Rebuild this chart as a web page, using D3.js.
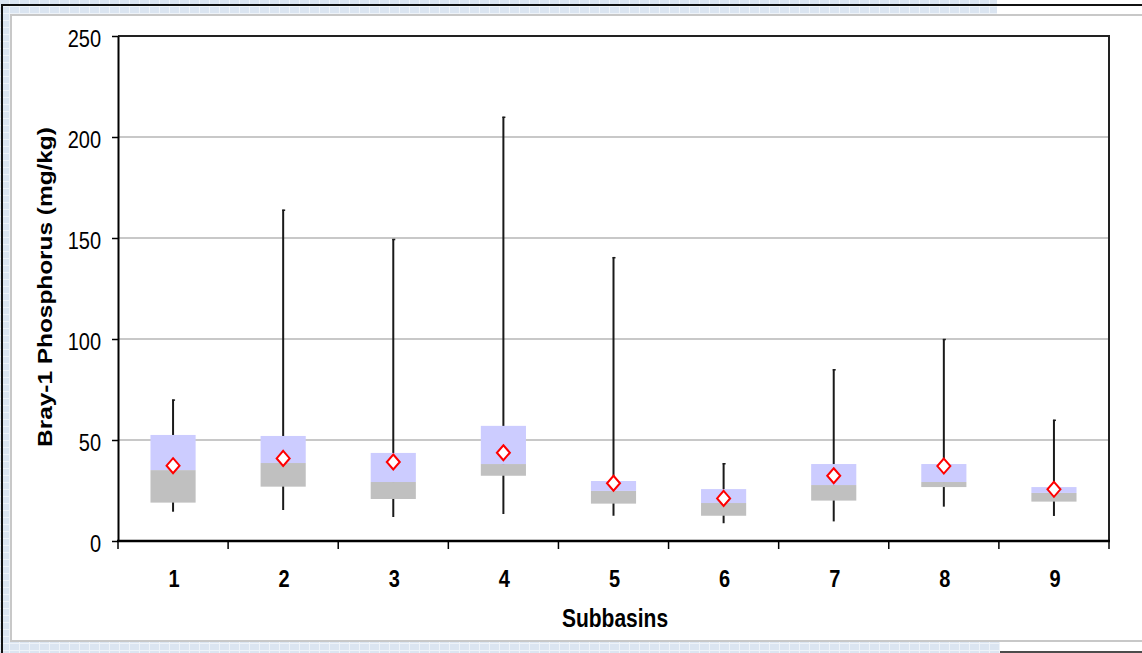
<!DOCTYPE html>
<html>
<head>
<meta charset="utf-8">
<script src="https://cdn.jsdelivr.net/npm/d3@7"></script>
<style>
  body { margin: 0; background: #fff; }
  svg { display: block; font-family: Arial, "Liberation Sans", sans-serif; }
</style>
</head>
<body>
<svg id="plotarea"></svg>
<script>
// subbasin stats (mg/kg)
var subbasins = ["1", "2", "3", "4", "5", "6", "7", "8", "9"];
var maxVals  = [70, 164, 149.5, 210, 140.5, 38.5, 85, 100, 60];
var q3Vals   = [52.5, 52, 43.6, 57, 29.7, 25.7, 38.1, 38.1, 26.7];
var medVals  = [35.1, 38.6, 29.2, 38.1, 24.8, 18.8, 27.7, 29.2, 23.8];
var q1Vals   = [19, 26.9, 20.8, 32.3, 18.5, 12.5, 20, 26.7, 19.5];
var minVals  = [14.5, 15.3, 11.9, 13.4, 12.5, 8.8, 9.7, 17, 12.4];
var meanVals = [37.3, 40.9, 39.1, 43.7, 28.6, 21.1, 32.3, 37.1, 25.6];
var yTicks   = [0, 50, 100, 150, 200, 250];

var W = 1142, H = 653;
var margin = {top: 36, right: 33, bottom: 112, left: 118};
var width = W - margin.left - margin.right;
var height = H - margin.top - margin.bottom;
var stretch = 1.22;

var svg = d3.select("#plotarea").attr("width", W).attr("height", H);

// window frame / background
var defs = svg.append("defs");
var pat = defs.append("pattern").attr("id", "grid")
    .attr("width", 10).attr("height", 7).attr("patternUnits", "userSpaceOnUse");
pat.append("rect").attr("width", 10).attr("height", 7).attr("fill", "#dbe5f1");
pat.append("path").attr("d", "M9.5,0V7M0,6.5H10").attr("stroke", "#eef3f9").attr("stroke-width", 1);

svg.append("rect").attr("width", W).attr("height", H).attr("fill", "url(#grid)");
svg.append("rect").attr("x", 997).attr("y", 0).attr("width", W - 997).attr("height", 15).attr("fill", "#fff");
svg.append("rect").attr("x", 1000).attr("y", 642).attr("width", W - 1000).attr("height", 11).attr("fill", "#fff");
svg.append("path").attr("d", "M2,653V5H" + W).attr("fill", "none").attr("stroke", "#111").attr("stroke-width", 2);
svg.append("path").attr("d", "M1000,652H" + W).attr("stroke", "#111").attr("stroke-width", 1.5);
svg.append("rect").attr("x", 11).attr("y", 15).attr("width", W - 10).attr("height", 626)
    .attr("fill", "#fff").attr("stroke", "#c8c8c8").attr("stroke-width", 2);

var g = svg.append("g")
    .attr("transform", "translate(" + margin.left + "," + margin.top + ")");

var x = d3.scaleBand().domain(subbasins).range([0, width]);
var y = d3.scaleLinear().domain([0, 250]).range([height, 0]);

// gridlines
g.selectAll(".grid")
    .data(yTicks.filter(function(d) { return d > 0 && d < 250; }))
    .enter().append("line")
    .attr("x1", 0).attr("x2", width)
    .attr("y1", function(d) { return y(d); })
    .attr("y2", function(d) { return y(d); })
    .attr("stroke", "#c8c8c8").attr("stroke-width", 2);

// plot frame top/right
g.append("path").attr("d", "M0,0H" + width + "V" + height)
    .attr("fill", "none").attr("stroke", "#222").attr("stroke-width", 2);

var idx = d3.range(subbasins.length);
var bw = x.bandwidth() * 0.41;

// whiskers
g.selectAll(".whisker")
    .data(idx).enter().append("line")
    .attr("x1", function(i) { return x(subbasins[i]) + x.bandwidth() / 2; })
    .attr("x2", function(i) { return x(subbasins[i]) + x.bandwidth() / 2; })
    .attr("y1", function(i) { return y(minVals[i]); })
    .attr("y2", function(i) { return y(maxVals[i]); })
    .attr("stroke", "#1a1a1a").attr("stroke-width", 2);
g.selectAll(".cap")
    .data(idx).enter().append("line")
    .attr("x1", function(i) { return x(subbasins[i]) + x.bandwidth() / 2 - 1; })
    .attr("x2", function(i) { return x(subbasins[i]) + x.bandwidth() / 2 + 2; })
    .attr("y1", function(i) { return y(maxVals[i]) + 0.5; })
    .attr("y2", function(i) { return y(maxVals[i]) + 0.5; })
    .attr("stroke", "#1a1a1a").attr("stroke-width", 1.5);

// lower part (q1 -> median) grey, upper (median -> q3) blue
g.selectAll(".lower")
    .data(idx).enter().append("rect")
    .attr("x", function(i) { return x(subbasins[i]) + (x.bandwidth() - bw) / 2; })
    .attr("width", bw)
    .attr("y", function(i) { return y(medVals[i]); })
    .attr("height", function(i) { return y(q1Vals[i]) - y(medVals[i]); })
    .attr("fill", "#c0c0c0");
g.selectAll(".upper")
    .data(idx).enter().append("rect")
    .attr("x", function(i) { return x(subbasins[i]) + (x.bandwidth() - bw) / 2; })
    .attr("width", bw)
    .attr("y", function(i) { return y(q3Vals[i]); })
    .attr("height", function(i) { return y(medVals[i]) - y(q3Vals[i]); })
    .attr("fill", "#ccccff");

// means
g.selectAll(".mean")
    .data(idx).enter().append("path")
    .attr("transform", function(i) {
        return "translate(" + (x(subbasins[i]) + x.bandwidth() / 2) + "," + y(meanVals[i]) + ")";
    })
    .attr("d", "M0,-7.5L6.5,0L0,7.5L-6.5,0Z")
    .attr("fill", "#fff").attr("stroke", "#ff0000").attr("stroke-width", 2);

// y axis
var yAxis = g.append("g")
    .call(d3.axisLeft(y).tickValues(yTicks).tickSize(6).tickSizeOuter(0));
yAxis.select(".domain").attr("stroke", "#000").attr("stroke-width", 2);
yAxis.selectAll(".tick line").attr("stroke", "#000").attr("stroke-width", 1.5);
yAxis.selectAll(".tick text")
    .attr("x", -17).attr("y", 0).attr("dy", null)
    .attr("transform", "translate(0,10) scale(1," + stretch + ")")
    .attr("font-size", 20).attr("fill", "#000")
    .attr("font-family", "Arial, 'Liberation Sans', sans-serif");

// x axis, ticks at category boundaries
var xAxis = g.append("g").attr("transform", "translate(0," + height + ")");
xAxis.selectAll(".xtick")
    .data(d3.range(subbasins.length + 1)).enter().append("line")
    .attr("x1", function(i) { return i * x.step(); })
    .attr("x2", function(i) { return i * x.step(); })
    .attr("y1", 0).attr("y2", 8)
    .attr("stroke", "#000").attr("stroke-width", 1.5);
xAxis.append("line").attr("x1", -1).attr("x2", width + 1)
    .attr("stroke", "#000").attr("stroke-width", 2.5);
xAxis.selectAll(".xlabel")
    .data(subbasins).enter().append("text")
    .attr("transform", function(d) {
        return "translate(" + (x(d) + x.bandwidth() / 2 + 1) + ",46) scale(1," + stretch + ")";
    })
    .attr("text-anchor", "middle")
    .attr("font-size", 20).attr("font-weight", "bold")
    .text(function(d) { return d; });

// axis titles
svg.append("text")
    .attr("transform", "translate(615,627) scale(1," + stretch + ")")
    .attr("text-anchor", "middle")
    .attr("font-size", 21).attr("font-weight", "bold")
    .text("Subbasins");
svg.append("text")
    .attr("transform", "translate(52,287) rotate(-90) scale(" + stretch + ",1)")
    .attr("text-anchor", "middle")
    .attr("font-size", 20).attr("font-weight", "bold")
    .text("Bray-1 Phosphorus (mg/kg)");
</script>
</body>
</html>
